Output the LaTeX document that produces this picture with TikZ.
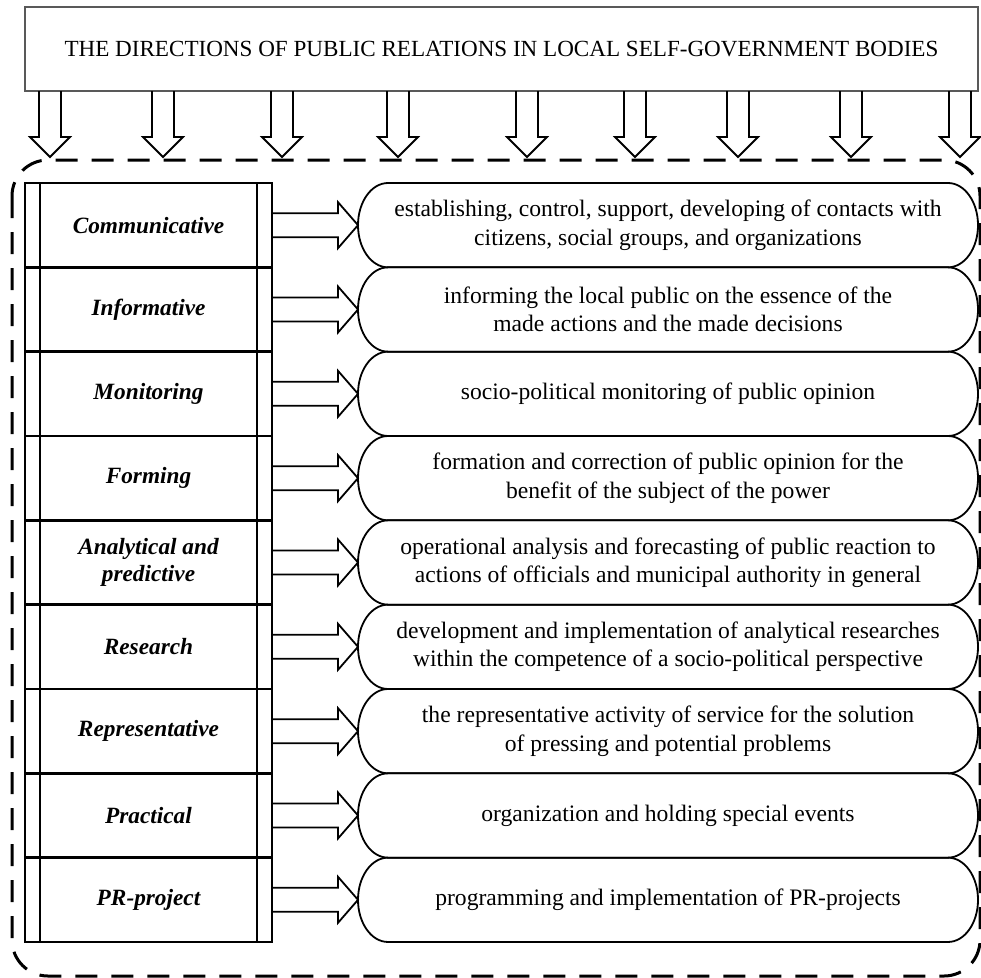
\documentclass[tikz,border=0pt]{standalone}
\usepackage{fontspec}
\setmainfont{Liberation Serif}
\begin{document}
\begin{tikzpicture}[x=1pt,y=1pt,
  lab/.style={minimum width=247pt, minimum height=84.33pt, inner sep=0pt, outer sep=0pt, draw, line width=2.6pt, font=\fontsize{23.3}{27}\selectfont\bfseries\itshape, align=center},
  ovl/.style={minimum width=620pt, minimum height=84.33pt, inner sep=0pt, outer sep=0pt, align=center, font=\fontsize{23.6}{28.5}\selectfont},
  hollow/.style={line width=1.8pt, line join=miter},
  blockarrow/.style={line width=1.8pt, line join=miter},
  ovalline/.style={line width=1.8pt},
  frame/.style={line width=3pt, dash pattern=on 22pt off 14pt, rounded corners=36pt},
]
\useasboundingbox (0,0) rectangle (981,-977);

% dashed frame
\draw[frame] (12,-160) rectangle (980,-976);

% title
\node[draw=black!65, line width=1.3pt, minimum width=953pt, minimum height=84pt, inner sep=0pt, outer sep=0pt,
      font=\fontsize{23.1}{27}\selectfont] (title) at (501.5,-49)
  {THE DIRECTIONS OF PUBLIC RELATIONS IN LOCAL SELF-GOVERNMENT BODIES};

% down block arrows
\foreach \c in {50,163,282,398,527,635,738,851,960}{
  \draw[blockarrow] ([xshift={(\c-36)*1pt}]title.south west) -- ++(0,-46) -- ++(-9,0) -- ++(20,-20) -- ++(20,20) -- ++(-9,0) -- ++(0,46);
}

% left table rows
\foreach \i/\t in {1/Communicative, 2/Informative, 3/Monitoring, 4/Forming, 5/{Analytical and\\predictive}, 6/Research, 7/Representative, 8/Practical, 9/PR-project}{
  \node[lab] (L\i) at (148.5,{-183-(\i-0.5)*84.33}) {\t};
}
\draw[line width=2.6pt] ([xshift=15pt]L1.north west) -- ([xshift=15pt]L9.south west);
\draw[line width=2.6pt] ([xshift=-15pt]L1.north east) -- ([xshift=-15pt]L9.south east);

% right ovals
\foreach \i/\t in {
  1/{establishing, control, support, developing of contacts with\\citizens, social groups, and organizations},
  2/{informing the local public on the essence of the\\made actions and the made decisions},
  3/{socio-political monitoring of public opinion},
  4/{formation and correction of public opinion for the\\benefit of the subject of the power},
  5/{operational analysis and forecasting of public reaction to\\actions of officials and municipal authority in general},
  6/{development and implementation of analytical researches\\within the competence of a socio-political perspective},
  7/{the representative activity of service for the solution\\of pressing and potential problems},
  8/{organization and holding special events},
  9/{programming and implementation of PR-projects}}{
  \node[ovl] (O\i) at (668,{-183-(\i-0.5)*84.33}) {\t};
  \draw[ovalline] ([xshift=30pt]O\i.north west) -- ([xshift=-30pt]O\i.north east)
     arc[start angle=90, end angle=-90, x radius=30pt, y radius=42.165pt]
     -- ([xshift=30pt]O\i.south west)
     arc[start angle=270, end angle=90, x radius=30pt, y radius=42.165pt] -- cycle;
  \draw[hollow] ([yshift=12pt]L\i.east) -- ([xshift=-20pt,yshift=12pt]O\i.west) -- ([xshift=-20pt,yshift=23pt]O\i.west)
     -- (O\i.west) -- ([xshift=-20pt,yshift=-23pt]O\i.west) -- ([xshift=-20pt,yshift=-12pt]O\i.west) -- ([yshift=-12pt]L\i.east);
}
\end{tikzpicture}
\end{document}
